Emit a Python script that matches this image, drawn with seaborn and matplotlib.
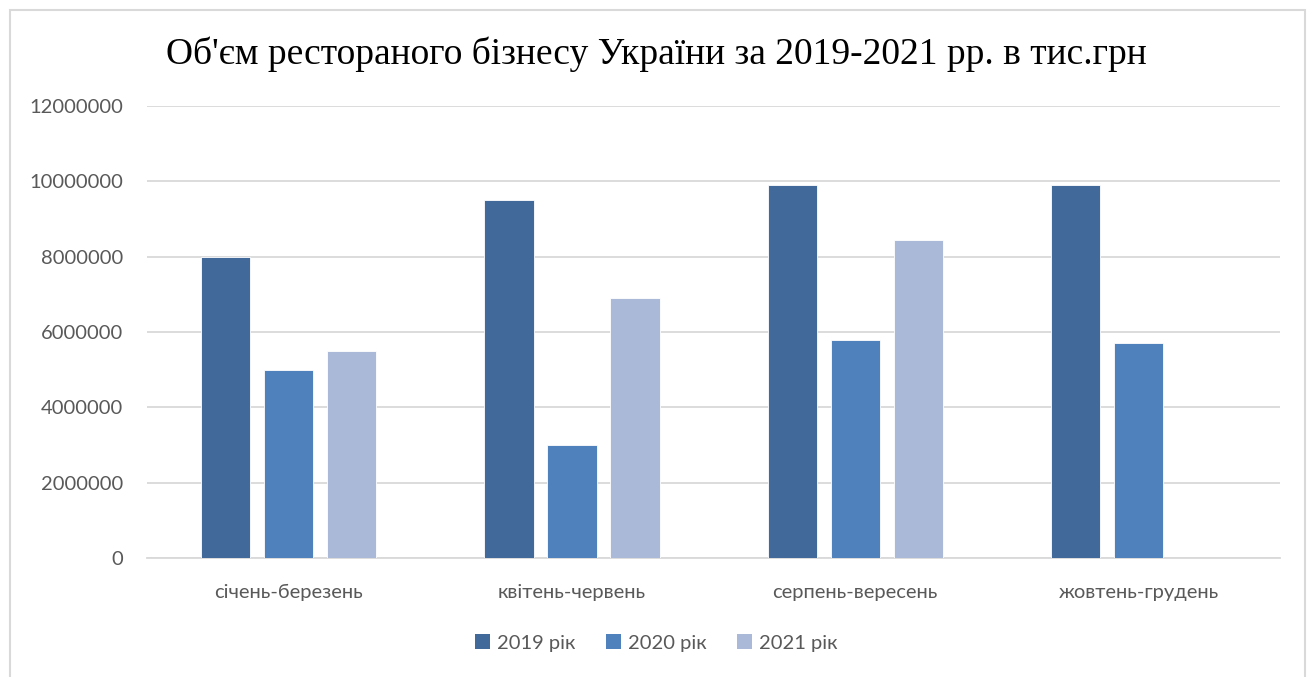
import numpy as np
import pandas as pd
import matplotlib
matplotlib.use("Agg")
import matplotlib.pyplot as plt
from matplotlib.patches import Rectangle
import seaborn as sns

categories = ["січень-березень", "квітень-червень", "серпень-вересень", "жовтень-грудень"]
series_names = ["2019 рік", "2020 рік", "2021 рік"]
values_2019 = [8000000, 9500000, 9900000, 9900000]
values_2020 = [5000000, 3000000, 5800000, 5700000]
values_2021 = [5500000, 6900000, 8450000, np.nan]
yticks = [0, 2000000, 4000000, 6000000, 8000000, 10000000, 12000000]
title = "Об'єм ресторaного бізнесу України за 2019-2021 рр. в тис.грн".replace("a", "а")

colors = ["#416A9B", "#4F81BD", "#AAB9D7"]

rows = []
for name, vals in zip(series_names, [values_2019, values_2020, values_2021]):
    for c, v in zip(categories, vals):
        rows.append({"period": c, "year": name, "value": v})
df = pd.DataFrame(rows)

sns.set_theme(style="white")
plt.rcParams["font.family"] = ["Lato", "DejaVu Sans"]

fig = plt.figure(figsize=(13.13, 6.77), dpi=100)
ax = fig.add_axes([0.112, 0.1758, 0.863, 0.6676])

sns.barplot(data=df, x="period", y="value", hue="year", order=categories,
            hue_order=series_names, palette=colors, saturation=1, width=0.667, gap=0.22,
            edgecolor="white", linewidth=0.6, errorbar=None, ax=ax, zorder=3)

ax.set_ylim(0, 12000000)
ax.set_yticks(yticks)
ax.set_yticklabels([str(t) for t in yticks])
ax.set_xlim(-0.5, len(categories) - 0.5)
ax.yaxis.grid(True, color="#D9D9D9", linewidth=1.3, zorder=0)
ax.set_axisbelow(True)
for s in ["left", "right", "top"]:
    ax.spines[s].set_visible(False)
ax.spines["bottom"].set_color("#D9D9D9")
ax.spines["bottom"].set_linewidth(1.3)
ax.tick_params(axis="both", length=0, labelsize=14.5, colors="#595959")
ax.tick_params(axis="y", pad=17)
ax.tick_params(axis="x", pad=19)
ax.set_xlabel("")
ax.set_ylabel("")

ax.legend_.remove()
handles = [Rectangle((0, 0), 1, 1, facecolor=c, edgecolor="none") for c in colors]
leg = fig.legend(handles, series_names, loc="center", bbox_to_anchor=(0.5, 1 - 643 / 677),
                 ncol=3, frameon=False, fontsize=14.5, handlelength=0.75, handleheight=0.75,
                 handletextpad=0.35, columnspacing=1.5)
for t in leg.get_texts():
    t.set_color("#595959")

fig.text(0.5, 1 - 54 / 677, title, ha="center", va="center", fontsize=27,
         family=["Liberation Serif", "DejaVu Serif"], color="black")

fig.patches.append(Rectangle((10 / 1313, -0.01), 1295 / 1313, 1 - 10 / 677 + 0.01,
                             transform=fig.transFigure, fill=False,
                             edgecolor="#D9D9D9", linewidth=1.5))

fig.savefig("out.png", dpi=100, facecolor="white")
